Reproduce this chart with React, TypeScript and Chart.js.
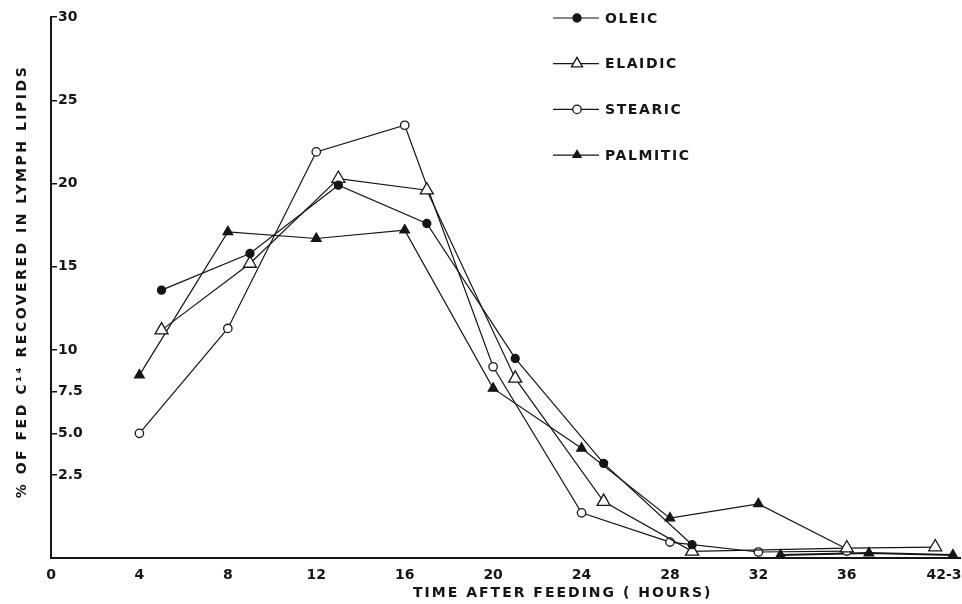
import React, { useEffect, useRef } from 'react';
import { Chart, registerables, LinearScale } from 'chart.js';

Chart.register(...registerables);

// ---------- data ----------
const X_TICKS = [0, 4, 8, 12, 16, 20, 24, 28, 32, 36, 42.5];
const X_TICK_LABELS = ['0', '4', '8', '12', '16', '20', '24', '28', '32', '36', '42-3'];
const Y_TICKS = [2.5, 5, 7.5, 10, 15, 20, 25, 30];
const Y_TICK_LABELS = ['2.5', '5.0', '7.5', '10', '15', '20', '25', '30'];

const OLEIC_HOURS = [5, 9, 13, 17, 21, 25, 29];
const OLEIC_VALUES = [13.6, 15.8, 19.9, 17.6, 9.5, 3.2, 0.4];

const ELAIDIC_HOURS = [5, 9, 13, 17, 21, 25, 29, 36, 42];
const ELAIDIC_VALUES = [11.2, 15.2, 20.3, 19.6, 8.3, 1.7, 0.2, 0.3, 0.33];

const STEARIC_HOURS = [4, 8, 12, 16, 20, 24, 28, 32, 36];
const STEARIC_VALUES = [5.0, 11.3, 21.9, 23.5, 9.0, 1.36, 0.48, 0.18, 0.21];

const PALMITIC_HOURS = [4, 8, 12, 16, 20, 24, 28, 32, 36];
const PALMITIC_VALUES = [8.5, 17.1, 16.7, 17.2, 7.7, 4.1, 1.2, 1.63, 0.27];

const PALMITIC_LATE_HOURS = [33, 37, 43];
const PALMITIC_LATE_VALUES = [0.09, 0.15, 0.09];

const X_TITLE = 'TIME AFTER FEEDING ( HOURS)';
const Y_TITLE = '% OF FED C\u00B9\u2074 RECOVERED IN LYMPH LIPIDS';

// hand-drawn axis spacing of the original figure (value -> drawn position)
const X_KNOTS = [[0, 0], [37, 37], [42, 40], [43, 40.8]];
const Y_KNOTS = [[0, 0], [2.5, 83], [30, 541]];
const KNOTS: Record<string, number[][]> = { x: X_KNOTS, y: Y_KNOTS };

function interp(knots: number[][], v: number, from: number, to: number) {
  let i = 0;
  while (i < knots.length - 2 && v > knots[i + 1][from]) i++;
  const a = knots[i];
  const b = knots[i + 1];
  return a[to] + ((v - a[from]) * (b[to] - a[to])) / (b[from] - a[from]);
}

class PiecewiseScale extends LinearScale {
  static id = 'piecewise';
  static defaults = {};
  getPixelForValue(value: any) {
    if (value === null || value === undefined || Number.isNaN(value)) return NaN;
    const k = KNOTS[(this as any).id];
    const p0 = interp(k, (this as any).min, 0, 1);
    const p1 = interp(k, (this as any).max, 0, 1);
    return (this as any).getPixelForDecimal((interp(k, value, 0, 1) - p0) / (p1 - p0));
  }
  getValueForPixel(pixel: number) {
    const k = KNOTS[(this as any).id];
    const p0 = interp(k, (this as any).min, 0, 1);
    const p1 = interp(k, (this as any).max, 0, 1);
    return interp(k, p0 + (this as any).getDecimalForPixel(pixel) * (p1 - p0), 1, 0);
  }
}
Chart.register(PiecewiseScale as any);

const INK = '#151515';
const FONT_FAMILY = '"DejaVu Sans", "Liberation Sans", sans-serif';

function pts(hours: number[], values: number[]) {
  return hours.map((h, i) => ({ x: h, y: values[i] }));
}

const datasets: any[] = [
  {
    label: 'OLEIC',
    data: pts(OLEIC_HOURS, OLEIC_VALUES),
    pointStyle: 'circle',
    pointRadius: 4,
    pointBackgroundColor: INK,
    inLegend: true,
  },
  {
    label: 'ELAIDIC',
    data: pts(ELAIDIC_HOURS, ELAIDIC_VALUES),
    pointStyle: 'triangle',
    pointRadius: 7.5,
    pointBackgroundColor: '#fff',
    inLegend: true,
  },
  {
    label: 'STEARIC',
    data: pts(STEARIC_HOURS, STEARIC_VALUES),
    pointStyle: 'circle',
    pointRadius: 4.2,
    pointBackgroundColor: '#fff',
    inLegend: true,
  },
  {
    label: 'PALMITIC',
    data: pts(PALMITIC_HOURS, PALMITIC_VALUES),
    pointStyle: 'triangle',
    pointRadius: PALMITIC_HOURS.map((_, i) => (i === PALMITIC_HOURS.length - 1 ? 0 : 5.5)),
    pointBackgroundColor: INK,
    inLegend: true,
  },
  {
    label: 'PALMITIC (late)',
    data: pts(PALMITIC_LATE_HOURS, PALMITIC_LATE_VALUES),
    pointStyle: 'triangle',
    pointRadius: 5.5,
    pointBackgroundColor: INK,
    borderWidth: 2.2,
    inLegend: false,
  },
].map((d) => ({
  borderColor: INK,
  borderWidth: 1.2,
  pointBorderColor: INK,
  pointBorderWidth: 1.3,
  tension: 0,
  fill: false,
  ...d,
}));

function drawMarker(ctx: CanvasRenderingContext2D, style: string, x: number, y: number, r: number, fill: string) {
  ctx.beginPath();
  if (style === 'triangle') {
    let rad = 0;
    ctx.moveTo(x + Math.sin(rad) * r, y - Math.cos(rad) * r);
    rad += (2 * Math.PI) / 3;
    ctx.lineTo(x + Math.sin(rad) * r, y - Math.cos(rad) * r);
    rad += (2 * Math.PI) / 3;
    ctx.lineTo(x + Math.sin(rad) * r, y - Math.cos(rad) * r);
    ctx.closePath();
  } else {
    ctx.arc(x, y, r, 0, Math.PI * 2);
  }
  ctx.fillStyle = fill;
  ctx.fill();
  ctx.lineWidth = 1.3;
  ctx.strokeStyle = INK;
  ctx.stroke();
}

const overlayPlugin = {
  id: 'overlay',
  afterDraw(chart: any) {
    const ctx: CanvasRenderingContext2D = chart.ctx;
    const { left, right, top, bottom } = chart.chartArea;
    ctx.save();
    ctx.fillStyle = INK;
    ctx.font = `bold 14px ${FONT_FAMILY}`;
    ctx.textBaseline = 'middle';

    // x axis title
    (ctx as any).letterSpacing = '2px';
    ctx.textAlign = 'center';
    ctx.fillText(X_TITLE, left + (right - left) * 0.563, bottom + 35);

    // y axis title
    ctx.save();
    (ctx as any).letterSpacing = '2.5px';
    ctx.translate(left - 29, (top + bottom) / 2 - 6);
    ctx.rotate(-Math.PI / 2);
    ctx.fillText(Y_TITLE, 0, 0);
    ctx.restore();

    // legend
    const items = chart.data.datasets.filter((d: any) => d.inLegend);
    items.forEach((d: any, i: number) => {
      const y = top + 1 + i * 45.7;
      const x0 = left + 502;
      ctx.beginPath();
      ctx.moveTo(x0, y);
      ctx.lineTo(x0 + 46, y);
      ctx.lineWidth = 1.2;
      ctx.strokeStyle = INK;
      ctx.stroke();
      const r = Array.isArray(d.pointRadius) ? d.pointRadius[0] : d.pointRadius;
      drawMarker(ctx, d.pointStyle, x0 + 24, y, r * (d.pointStyle === 'triangle' ? 0.85 : 1), d.pointBackgroundColor);
      ctx.fillStyle = INK;
      ctx.textAlign = 'left';
      (ctx as any).letterSpacing = '1.6px';
      ctx.fillText(d.label, x0 + 52, y + 1);
    });
    (ctx as any).letterSpacing = '0px';
    ctx.restore();
  },
};

export default function App() {
  const ref = useRef<HTMLCanvasElement>(null);
  useEffect(() => {
    if (!ref.current) return;
    const tickFont = { family: FONT_FAMILY, weight: 'bold' as const, size: 14 };
    const chart = new Chart(ref.current, {
      type: 'line',
      data: { datasets },
      options: {
        animation: false,
        responsive: false,
        devicePixelRatio: 1,
        layout: { autoPadding: false, padding: { left: 41, right: 2, top: 17, bottom: 0 } },
        plugins: {
          legend: { display: false },
          tooltip: { enabled: false },
        },
        scales: {
          x: {
            type: 'piecewise' as any,
            position: 'bottom',
            min: 0,
            max: 43.4,
            bounds: 'data',
            afterFit: (s: any) => {
              s.height = 46;
              s.paddingLeft = 0;
              s.paddingRight = 0;
            },
            afterBuildTicks: (s: any) => {
              s.ticks = X_TICKS.map((v) => ({ value: v }));
            },
            ticks: {
              autoSkip: false,
              maxRotation: 0,
              padding: 9,
              color: INK,
              font: tickFont,
              callback: (_v: any, i: number) => X_TICK_LABELS[i],
            },
            grid: { display: true, drawOnChartArea: false, drawTicks: false, color: INK },
            border: { display: true, color: INK, width: 2 },
          } as any,
          y: {
            type: 'piecewise' as any,
            position: 'left',
            min: 0,
            max: 30,
            bounds: 'data',
            afterFit: (s: any) => {
              s.width = 10;
              s.paddingTop = 0;
              s.paddingBottom = 0;
            },
            afterBuildTicks: (s: any) => {
              s.ticks = Y_TICKS.map((v) => ({ value: v }));
            },
            ticks: {
              mirror: true,
              padding: 7,
              autoSkip: false,
              color: INK,
              font: tickFont,
              callback: (_v: any, i: number) => Y_TICK_LABELS[i],
            },
            grid: {
              display: true,
              drawOnChartArea: false,
              drawTicks: true,
              tickLength: -6,
              color: INK,
              lineWidth: 1.5,
            },
            border: { display: true, color: INK, width: 2 },
          } as any,
        },
      },
      plugins: [overlayPlugin],
    });
    return () => chart.destroy();
  }, []);
  return (
    <div style={{ position: 'fixed', left: 0, top: 0, width: 962, height: 604, background: '#fff' }}>
      <canvas ref={ref} width={962} height={604} />
    </div>
  );
}
